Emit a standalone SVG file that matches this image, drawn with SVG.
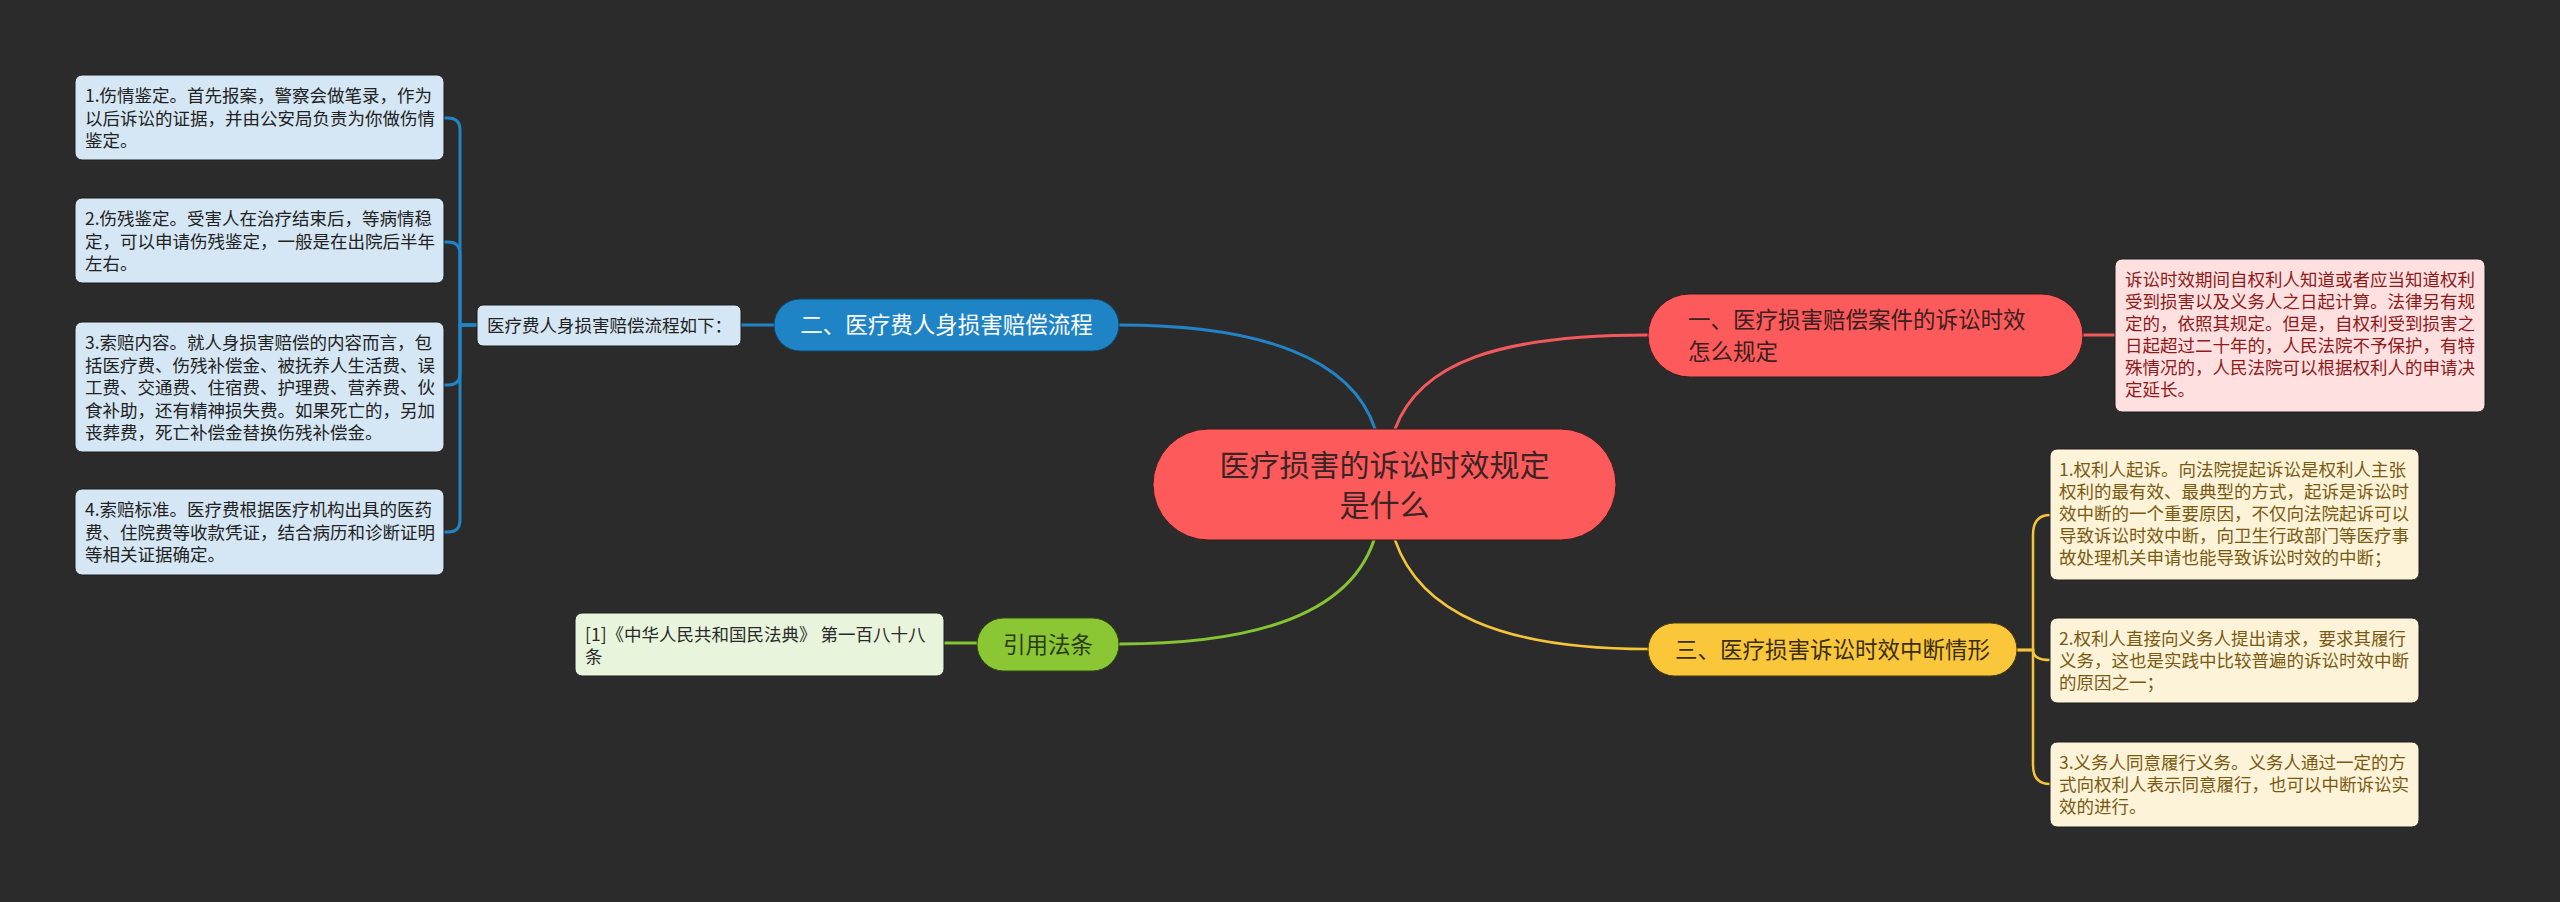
<svg xmlns="http://www.w3.org/2000/svg" width="2560" height="902" viewBox="0 0 2560 902">
<style>
text{font-family:"Noto Sans CJK SC","Noto Sans",sans-serif;}
.leaf{font-size:17.5px;}
.main{font-size:22.5px;}
.conn{fill:none;stroke-width:3;stroke-linecap:round;}
.blue{stroke:#2283c6;}
.red{stroke:#f2595c;}
.green{stroke:#86c433;}
.yellow{stroke:#f5c43a;stroke-width:2.5;}
.bleaf{fill:#d5e7f4;stroke:#1e1e1e;stroke-width:1;}
.bleaft{fill:#222222;}
.yleaf{fill:#fdf3d8;stroke:#1e1e1e;stroke-width:1;}
.yleaft{fill:#7a5a12;}
</style>
<rect width="2560" height="902" fill="#2b2b2b"/>
<g id="connectors">
<path class="conn blue" d="M1120 325 C1260 325 1352 358 1375 429"/>
<path class="conn red" d="M1395 429 C1420 362 1500 335 1648 335"/>
<path class="conn green" d="M1120 644 C1260 644 1350 612 1374 540"/>
<path class="conn yellow" d="M1395 540 C1420 612 1500 649 1648 649"/>
<path class="conn blue" d="M741 325 H774"/>
<path class="conn blue" d="M477 325 H460 V130 Q460 118 448 118 H444"/>
<path class="conn blue" d="M477 325 H460 V254 Q460 242 448 242 H444"/>
<path class="conn blue" d="M477 325 H460 V373 Q460 385 448 385 H444"/>
<path class="conn blue" d="M477 325 H460 V520 Q460 532 448 532 H444"/>
<path class="conn red" d="M2083 335 H2115"/>
<path class="conn green" d="M944 643 H977"/>
<path class="conn yellow" d="M2017 650 H2033 V535 Q2033 515 2050 515"/>
<path class="conn yellow" d="M2017 650 H2033 Q2033 660 2050 660"/>
<path class="conn yellow" d="M2017 650 H2033 V765 Q2033 784 2050 784"/>
</g>
<g id="center">
<rect x="1153" y="429" width="463" height="111" rx="55.5" fill="#fd5a5b" stroke="#3a1c1c" stroke-width="1"/>
<text x="1384.5" y="476" font-size="30" fill="#3a2424" text-anchor="middle">医疗损害的诉讼时效规定</text>
<text x="1384.5" y="516" font-size="30" fill="#3a2424" text-anchor="middle">是什么</text>
</g>
<g id="node-blue">
<rect x="774" y="299" width="345" height="52" rx="26" fill="#1f84c6" stroke="#12466a" stroke-width="1"/>
<text class="main" x="946.5" y="333" fill="#ffffff" text-anchor="middle">二、医疗费人身损害赔偿流程</text>
</g>
<g id="node-blue-sub">
<rect x="477" y="305" width="264" height="41" rx="6" class="bleaf"/>
<text class="leaf bleaft" x="487" y="332" font-size="17">医疗费人身损害赔偿流程如下：</text>
</g>
<g id="leaf-b1">
<rect x="75" y="75" width="369" height="85" rx="7" class="bleaf"/>
<text class="leaf bleaft"><tspan x="85" y="102">1.伤情鉴定。首先报案，警察会做笔录，作为</tspan><tspan x="85" y="124.5">以后诉讼的证据，并由公安局负责为你做伤情</tspan><tspan x="85" y="147">鉴定。</tspan></text>
</g>
<g id="leaf-b2">
<rect x="75" y="198" width="369" height="85" rx="7" class="bleaf"/>
<text class="leaf bleaft"><tspan x="85" y="225">2.伤残鉴定。受害人在治疗结束后，等病情稳</tspan><tspan x="85" y="247.5">定，可以申请伤残鉴定，一般是在出院后半年</tspan><tspan x="85" y="270">左右。</tspan></text>
</g>
<g id="leaf-b3">
<rect x="75" y="322" width="369" height="130" rx="7" class="bleaf"/>
<text class="leaf bleaft"><tspan x="85" y="349">3.索赔内容。就人身损害赔偿的内容而言，包</tspan><tspan x="85" y="371.5">括医疗费、伤残补偿金、被抚养人生活费、误</tspan><tspan x="85" y="394">工费、交通费、住宿费、护理费、营养费、伙</tspan><tspan x="85" y="416.5">食补助，还有精神损失费。如果死亡的，另加</tspan><tspan x="85" y="439">丧葬费，死亡补偿金替换伤残补偿金。</tspan></text>
</g>
<g id="leaf-b4">
<rect x="75" y="489" width="369" height="86" rx="7" class="bleaf"/>
<text class="leaf bleaft"><tspan x="85" y="516">4.索赔标准。医疗费根据医疗机构出具的医药</tspan><tspan x="85" y="538.5">费、住院费等收款凭证，结合病历和诊断证明</tspan><tspan x="85" y="561">等相关证据确定。</tspan></text>
</g>
<g id="node-red">
<rect x="1648" y="294" width="435" height="83" rx="41.5" fill="#fd5a5b" stroke="#3a1c1c" stroke-width="1"/>
<text class="main" fill="#3a2020"><tspan x="1688" y="328">一、医疗损害赔偿案件的诉讼时效</tspan><tspan x="1688" y="360">怎么规定</tspan></text>
</g>
<g id="leaf-red">
<rect x="2115" y="259" width="370" height="153" rx="7" fill="#ffe0e0" stroke="#1e1e1e" stroke-width="1"/>
<text class="leaf" fill="#8e1a1a"><tspan x="2125" y="286">诉讼时效期间自权利人知道或者应当知道权利</tspan><tspan x="2125" y="308">受到损害以及义务人之日起计算。法律另有规</tspan><tspan x="2125" y="330">定的，依照其规定。但是，自权利受到损害之</tspan><tspan x="2125" y="352">日起超过二十年的，人民法院不予保护，有特</tspan><tspan x="2125" y="374">殊情况的，人民法院可以根据权利人的申请决</tspan><tspan x="2125" y="396">定延长。</tspan></text>
</g>
<g id="node-green">
<rect x="977" y="618" width="142" height="53" rx="26.5" fill="#8bc634" stroke="#2c4a10" stroke-width="1"/>
<text class="main" x="1048" y="653" fill="#2a3a12" text-anchor="middle">引用法条</text>
</g>
<g id="leaf-green">
<rect x="575" y="613" width="369" height="63" rx="7" fill="#e9f4dc" stroke="#1e1e1e" stroke-width="1"/>
<text class="leaf" fill="#2a2a2a"><tspan x="585" y="641">[1]《中华人民共和国民法典》 第一百八十八</tspan><tspan x="585" y="663">条</tspan></text>
</g>
<g id="node-yellow">
<rect x="1648" y="623" width="369" height="53" rx="26.5" fill="#fac73b" stroke="#4a3a10" stroke-width="1"/>
<text class="main" x="1832.5" y="658" fill="#3a2e10" text-anchor="middle">三、医疗损害诉讼时效中断情形</text>
</g>
<g id="leaf-y1">
<rect x="2050" y="449" width="369" height="131" rx="7" class="yleaf"/>
<text class="leaf yleaft"><tspan x="2059" y="476">1.权利人起诉。向法院提起诉讼是权利人主张</tspan><tspan x="2059" y="498">权利的最有效、最典型的方式，起诉是诉讼时</tspan><tspan x="2059" y="520">效中断的一个重要原因，不仅向法院起诉可以</tspan><tspan x="2059" y="542">导致诉讼时效中断，向卫生行政部门等医疗事</tspan><tspan x="2059" y="564">故处理机关申请也能导致诉讼时效的中断；</tspan></text>
</g>
<g id="leaf-y2">
<rect x="2050" y="618" width="369" height="85" rx="7" class="yleaf"/>
<text class="leaf yleaft"><tspan x="2059" y="645">2.权利人直接向义务人提出请求，要求其履行</tspan><tspan x="2059" y="667">义务，这也是实践中比较普遍的诉讼时效中断</tspan><tspan x="2059" y="689">的原因之一；</tspan></text>
</g>
<g id="leaf-y3">
<rect x="2050" y="742" width="369" height="85" rx="7" class="yleaf"/>
<text class="leaf yleaft"><tspan x="2059" y="769">3.义务人同意履行义务。义务人通过一定的方</tspan><tspan x="2059" y="791">式向权利人表示同意履行，也可以中断诉讼实</tspan><tspan x="2059" y="813">效的进行。</tspan></text>
</g>
</svg>
